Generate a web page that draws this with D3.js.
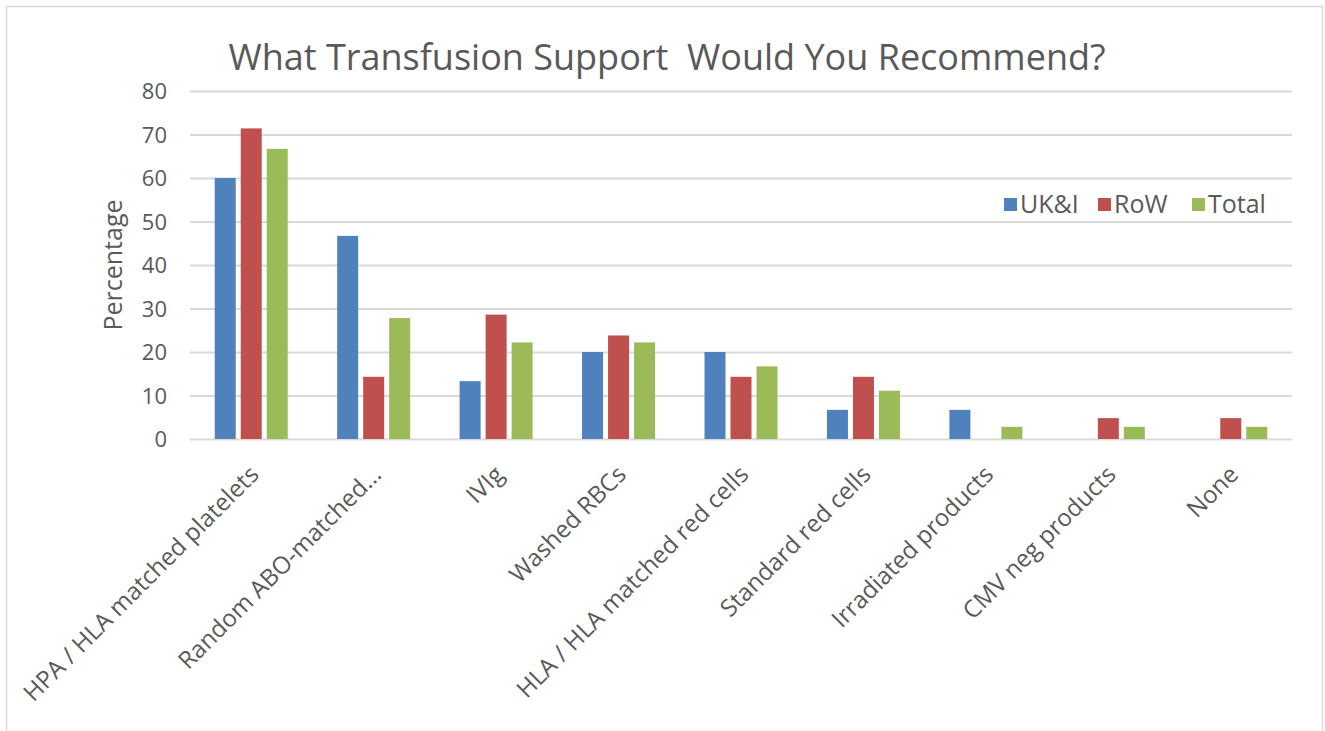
<!DOCTYPE html>
<html>
<head>
<meta charset="utf-8">
<script src="https://cdn.jsdelivr.net/npm/d3@7"></script>
<style>
  html, body { margin: 0; padding: 0; background: #fff; }
  svg { display: block; font-family: "Open Sans", "Noto Sans", sans-serif; }
</style>
</head>
<body>
<svg id="chart" width="1325" height="731"></svg>
<script>
const categories = ["HPA / HLA matched platelets", "Random ABO-matched...", "IVIg", "Washed RBCs",
  "HLA / HLA matched red cells", "Standard red cells", "Irradiated products", "CMV neg products", "None"];
const seriesNames = ["UK&I", "RoW", "Total"];
const ukiValues   = [60.0, 46.7, 13.3, 20.0, 20.0, 6.7, 6.7, 0, 0];
const rowValues   = [71.4, 14.3, 28.6, 23.8, 14.3, 14.3, 0, 4.8, 4.8];
const totalValues = [66.7, 27.8, 22.2, 22.2, 16.7, 11.1, 2.8, 2.8, 2.8];
const yTicks = [0, 10, 20, 30, 40, 50, 60, 70, 80];
const titleText = "What Transfusion Support  Would You Recommend?";
const yTitle = "Percentage";

const colors = ["#4f81bd", "#c0504d", "#9bbb59"];
const seriesValues = [ukiValues, rowValues, totalValues];

const svg = d3.select("#chart");
const textColor = "#595959";
const gridColor = "#d9d9d9";

// outer border
svg.append("rect").attr("x", 6.5).attr("y", 6.5).attr("width", 1316).attr("height", 740)
  .attr("fill", "none").attr("stroke", "#d9d9d9").attr("stroke-width", 1.5);

const plot = { left: 190, right: 1292, top: 91, bottom: 439 };

const x0 = d3.scaleBand().domain(categories).range([plot.left, plot.right]).paddingInner(0).paddingOuter(0);
const x1 = d3.scaleBand().domain(seriesNames).range([-36.5, 36.5]).paddingInner(5/26).paddingOuter(0);
const y = d3.scaleLinear().domain([0, 80]).range([plot.bottom, plot.top]);

// gridlines
const yAxis = d3.axisLeft(y).tickValues(yTicks).tickSize(-(plot.right - plot.left)).tickPadding(23).tickFormat(d3.format("d"));
const gy = svg.append("g").attr("transform", `translate(${plot.left},0)`).call(yAxis);
gy.select(".domain").remove();
gy.selectAll(".tick line").attr("stroke", gridColor).attr("stroke-width", 2);
gy.selectAll(".tick text").attr("fill", textColor).attr("font-size", 22)
  .attr("font-family", "'Open Sans', sans-serif").attr("dy", "0.36em");

// bars
const groups = svg.append("g").selectAll("g").data(categories).join("g")
  .attr("transform", d => `translate(${x0(d) + x0.bandwidth() / 2},0)`);
groups.selectAll("rect").data((d, i) => seriesNames.map((s, j) => ({ s, j, v: seriesValues[j][i] })))
  .join("rect")
  .filter(d => d.v > 0)
  .attr("x", d => x1(d.s))
  .attr("width", x1.bandwidth())
  .attr("y", d => y(d.v))
  .attr("height", d => y(0) - y(d.v))
  .attr("fill", d => colors[d.j]);

// x labels
const xAxis = d3.axisBottom(x0).tickSize(0).tickPadding(0);
const gx = svg.append("g").attr("transform", `translate(0,${plot.bottom})`).call(xAxis);
gx.select(".domain").remove();
gx.selectAll(".tick text")
  .attr("fill", textColor).attr("font-size", 24).attr("font-family", "'Open Sans', sans-serif")
  .attr("text-anchor", "end")
  .attr("dy", null).attr("y", 0)
  .attr("transform", "translate(9,37) rotate(-45)");

// axis titles
svg.append("text").attr("transform", `translate(122,265) rotate(-90)`)
  .attr("text-anchor", "middle").attr("fill", textColor).attr("font-size", 25).text(yTitle);

svg.append("text").attr("x", 667).attr("y", 70).attr("text-anchor", "middle")
  .attr("fill", textColor).attr("font-size", 36).text(titleText)
  .attr("xml:space", "preserve");

// legend
const legendX = [1004, 1098, 1192];
const lg = svg.append("g").selectAll("g").data(seriesNames).join("g")
  .attr("transform", (d, i) => `translate(${legendX[i]},198)`);
lg.append("rect").attr("width", 13).attr("height", 13).attr("y", 0).attr("fill", (d, i) => colors[i]);
lg.append("text").attr("x", 16).attr("y", 14.5).attr("fill", textColor).attr("font-size", 25).text(d => d);
</script>
</body>
</html>
